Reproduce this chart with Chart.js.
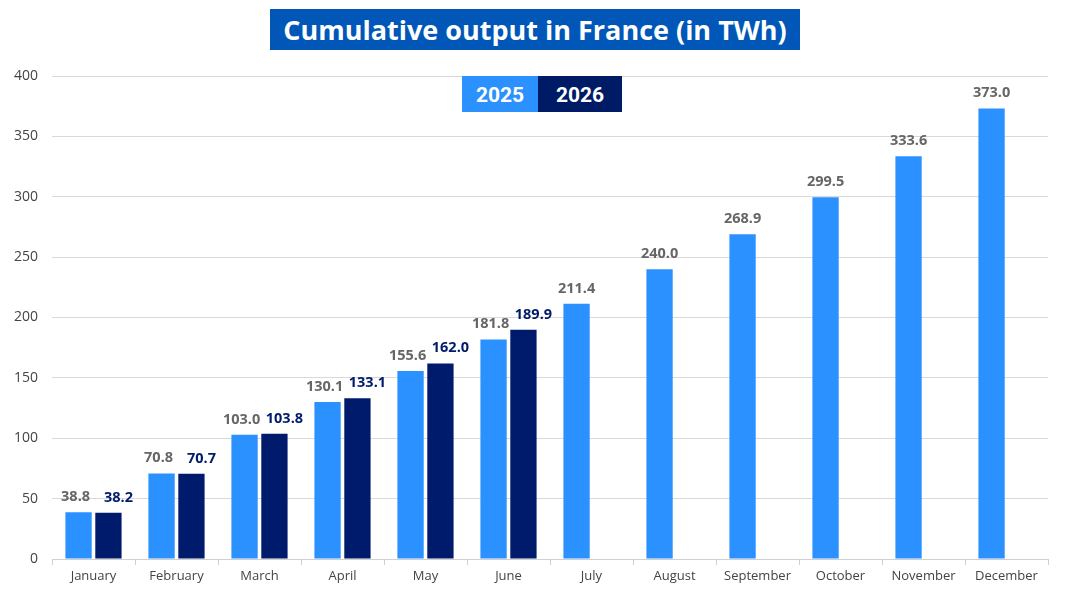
<!DOCTYPE html>
<html><head><meta charset="utf-8">
<script src="https://cdn.jsdelivr.net/npm/chart.js@4/dist/chart.umd.min.js"></script>
<style>
html,body{margin:0;padding:0;background:#fff;}
#wrap{position:relative;width:1066px;height:595px;}
#title{position:absolute;left:270px;top:9px;width:530px;height:41px;background:#0057B8;color:#fff;font:bold 27px "Open Sans", sans-serif;text-align:center;line-height:41px;white-space:nowrap;}
#legend{position:absolute;left:462px;top:76px;height:36px;display:flex;font:bold 21px Roboto, sans-serif;color:#fff;}
#legend div{height:36px;line-height:38px;text-align:center;}
canvas{position:absolute;left:0;top:0;}
</style></head>
<body><div id="wrap">
<canvas id="c" width="1066" height="595"></canvas>
<div id="title">Cumulative output in France (in TWh)</div>
<div id="legend"><div id="l1" style="width:76px;background:#2B91FF">2025</div><div id="l2" style="width:84px;background:#001B66">2026</div></div>
</div>
<script>
const categories = ["January","February","March","April","May","June","July","August","September","October","November","December"];
const series2025 = [38.8,70.8,103.0,130.1,155.6,181.8,211.4,240.0,268.9,299.5,333.6,373.0];
const series2026 = [38.2,70.7,103.8,133.1,162.0,189.9,null,null,null,null,null,null];
const yTicks = [0,50,100,150,200,250,300,350,400];

const labelPlugin = {
  id:'barLabels',
  afterDatasetsDraw(chart){
    const ctx = chart.ctx;
    ctx.save();
    ctx.font = 'bold 14.5px "Open Sans", sans-serif';
    ctx.textAlign = 'center';
    ctx.textBaseline = 'bottom';
    chart.data.datasets.forEach((ds,i)=>{
      const meta = chart.getDatasetMeta(i);
      ctx.fillStyle = ds.labelColor;
      meta.data.forEach((bar,j)=>{
        const v = ds.data[j];
        if(v===null||v===undefined) return;
        const shift = (series2026[j]===null) ? 0 : ds.labelShift;
        ctx.fillText(v.toFixed(1), bar.x + shift, bar.y - 8);
      });
    });
    ctx.restore();
  }
};

new Chart(document.getElementById('c'),{
  type:'bar',
  data:{
    labels:categories,
    datasets:[
      {label:'2025',data:series2025,backgroundColor:'#2B91FF',borderWidth:0,labelColor:'#666666',labelShift:-3,categoryPercentage:0.72,barPercentage:0.88},
      {label:'2026',data:series2026,backgroundColor:'#001B6B',borderWidth:0,labelColor:'#001B6B',labelShift:10,categoryPercentage:0.72,barPercentage:0.88}
    ]
  },
  options:{
    responsive:false,
    animation:false,
    layout:{padding:{top:76,right:18,bottom:0,left:0}},
    plugins:{legend:{display:false},title:{display:false},tooltip:{enabled:false}},
    scales:{
      x:{
        grid:{display:true,drawOnChartArea:false,drawTicks:true,tickLength:6,offset:true,color:'#d0d0d0'},
        border:{display:true,color:'#d0d0d0',width:1},
        ticks:{color:'#444',font:{family:'Open Sans',size:13},padding:3,maxRotation:0,autoSkip:false},
        afterFit(s){s.height=36;}
      },
      y:{
        min:0,max:400,
        afterBuildTicks(s){s.ticks=yTicks.map(v=>({value:v}));},
        grid:{color:'#d9d9d9',drawTicks:false},
        border:{display:false},
        ticks:{color:'#444',font:{family:'Open Sans',size:14},padding:14},
        afterFit(s){s.width=52;}
      }
    }
  },
  plugins:[labelPlugin]
});
</script>
</body></html>
